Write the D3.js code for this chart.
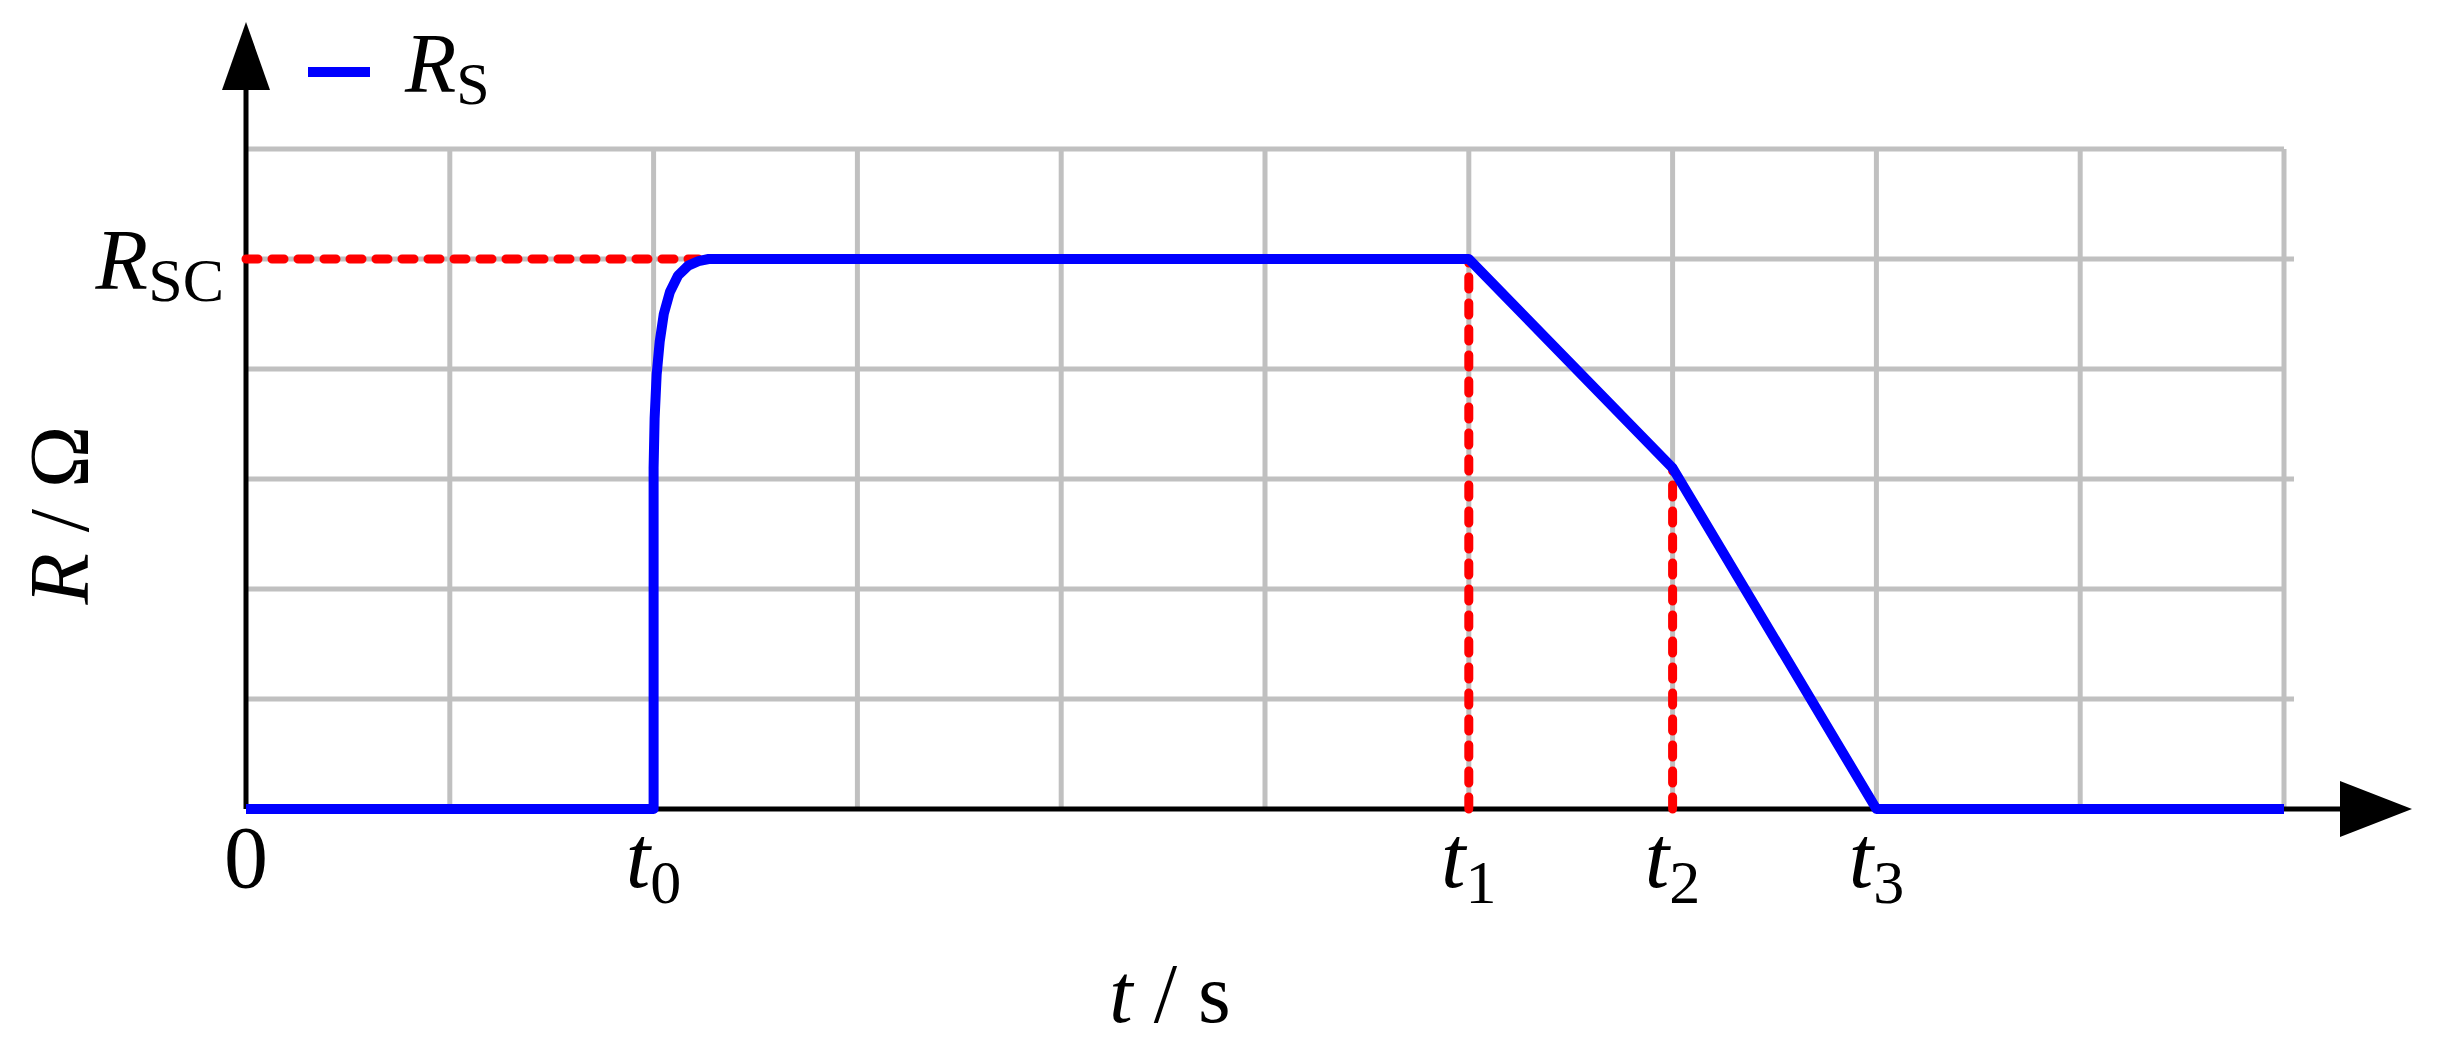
<!DOCTYPE html>
<style>
  body { margin: 0; background: #fff; }
  text { font-family: "Liberation Serif", "Times New Roman", serif; }
</style>
<svg width="2440" height="1049"></svg>
<script src="https://d3js.org/d3.v7.min.js"></script>
<script>

// curve R_S (t in grid units, R in grid units)
var rsT = [0, 2, 2, 2.005, 2.015, 2.03, 2.05, 2.08, 2.12, 2.17, 2.22, 2.27, 6, 7, 8, 10];
var rsR = [0, 0, 3.1, 3.55, 3.95, 4.25, 4.5, 4.7, 4.85, 4.94, 4.98, 5, 5, 3.1, 0, 0];
var RSC = 5;
var markT = [0, 2, 6, 7, 8];
var markLabels = [["0", ""], ["t", "0"], ["t", "1"], ["t", "2"], ["t", "3"]];

var svg = d3.select("svg"),
    margin = {left: 246, top: 149},
    width = 2284 - 246,
    height = 809 - 149,
    g = svg.append("g").attr("transform", "translate(" + margin.left + "," + margin.top + ")");

var x = d3.scaleLinear().domain([0, 10]).range([0, width]);
var y = d3.scaleLinear().domain([0, 6]).range([height, 0]);

// grid
g.append("g").selectAll("line").data(d3.range(1, 11)).join("line")
    .attr("x1", x).attr("x2", x).attr("y1", 0).attr("y2", height)
    .attr("stroke", "#c0c0c0").attr("stroke-width", 5);
g.append("g").selectAll("line").data(d3.range(1, 7)).join("line")
    .attr("x1", 0).attr("x2", function(d) { return d % 2 ? width + 10 : width; })
    .attr("y1", y).attr("y2", y)
    .attr("stroke", "#c0c0c0").attr("stroke-width", 5);

// axes with arrows
g.append("line").attr("x1", 0).attr("x2", 2340 - margin.left).attr("y1", height).attr("y2", height)
    .attr("stroke", "#000").attr("stroke-width", 5);
g.append("line").attr("x1", 0).attr("x2", 0).attr("y1", height).attr("y2", 60 - margin.top)
    .attr("stroke", "#000").attr("stroke-width", 5);
g.append("path").attr("d", "M" + (2412 - margin.left) + "," + height + "l-72,-28v56z").attr("fill", "#000");
g.append("path").attr("d", "M0," + (22 - margin.top) + "l-24,68h48z").attr("fill", "#000");

// red dashed guides
var dash = function(sel) {
  return sel.attr("stroke", "#ff0000").attr("stroke-width", 9).attr("stroke-dasharray", "12,14")
      .attr("stroke-linecap", "round").attr("fill", "none");
};
dash(g.append("line").attr("x1", x(0)).attr("x2", x(rsT[10])).attr("y1", y(RSC)).attr("y2", y(RSC)));
dash(g.append("line").attr("x1", x(rsT[12])).attr("x2", x(rsT[12])).attr("y1", y(0)).attr("y2", y(rsR[12])));
dash(g.append("line").attr("x1", x(rsT[13])).attr("x2", x(rsT[13])).attr("y1", y(0)).attr("y2", y(rsR[13])));

// R_S line
var line = d3.line().x(function(d, i) { return x(rsT[i]); }).y(function(d) { return y(d); });
g.append("path").datum(rsR).attr("d", line)
    .attr("fill", "none").attr("stroke", "#0000ff").attr("stroke-width", 10)
    .attr("stroke-linejoin", "round");

// tick labels
markT.forEach(function(t, i) {
  var tx = g.append("text").attr("x", x(t)).attr("y", height + 78)
      .attr("text-anchor", "middle").attr("font-size", 88);
  if (i === 0) { tx.text("0"); return; }
  tx.append("tspan").attr("font-style", "italic").text(markLabels[i][0]);
  tx.append("tspan").attr("font-size", 62).attr("dy", 16).text(markLabels[i][1]);
});

// R_SC label
var rl = g.append("text").attr("x", -22).attr("y", y(RSC) + 30).attr("text-anchor", "end").attr("font-size", 86);
rl.append("tspan").attr("font-style", "italic").text("R");
rl.append("tspan").attr("font-size", 62).attr("dy", 12).text("SC");

// axis titles
var xt = svg.append("text").attr("x", 1170).attr("y", 1022).attr("text-anchor", "middle").attr("font-size", 84);
xt.append("tspan").attr("font-style", "italic").text("t");
xt.append("tspan").text(" / s");
var yt = svg.append("text").attr("transform", "translate(88,515) rotate(-90)").attr("text-anchor", "middle").attr("font-size", 84);
yt.append("tspan").attr("font-style", "italic").text("R");
yt.append("tspan").text(" /  Ω");

// legend
svg.append("line").attr("x1", 308).attr("x2", 370).attr("y1", 72).attr("y2", 72)
    .attr("stroke", "#0000ff").attr("stroke-width", 10);
var lt = svg.append("text").attr("x", 405).attr("y", 92).attr("font-size", 84);
lt.append("tspan").attr("font-style", "italic").text("R");
lt.append("tspan").attr("font-size", 60).attr("dy", 12).text("S");
</script>
